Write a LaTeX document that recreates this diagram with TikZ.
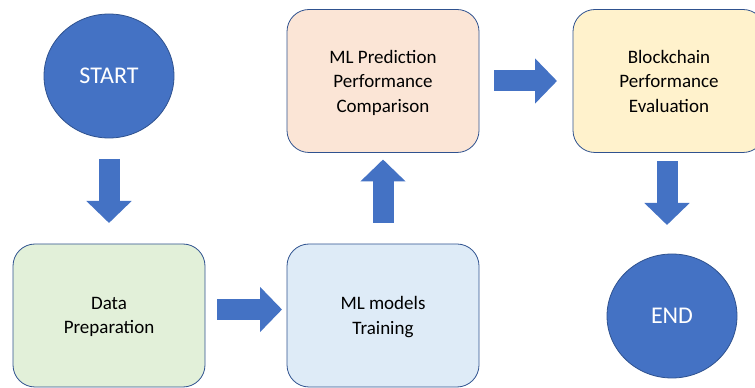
\documentclass[tikz,border=0pt]{standalone}
\usepackage{fontspec}
\setmainfont{Carlito}
\usetikzlibrary{shapes.geometric,arrows.meta}
\definecolor{offblue}{HTML}{4472C4}
\definecolor{edgeblue}{HTML}{2F528F}
\definecolor{prepgreen}{HTML}{E2F0D9}
\definecolor{trainblue}{HTML}{DEEBF7}
\definecolor{predpeach}{HTML}{FBE5D6}
\definecolor{chainyellow}{HTML}{FFF2CC}
\begin{document}
\begin{tikzpicture}[x=1pt,y=1pt,
  term/.style={ellipse,draw=edgeblue,line width=.8pt,fill=offblue,text=white,minimum width=130pt,minimum height=124pt,inner sep=0pt,outer sep=0pt,font=\fontsize{24}{28}\selectfont},
  stage/.style={rectangle,rounded corners=22pt,draw=edgeblue,line width=.8pt,minimum width=192pt,minimum height=143pt,align=center,text depth=0pt,outer sep=0pt,font=\fontsize{19}{24.5}\selectfont},
  flow/.style={line width=21pt,draw=offblue,-{Triangle[length=22pt,width=44pt]}}]
\useasboundingbox (0,0) rectangle (755,388);
\node[term] (start) at (109,312) {START};
\node[stage,fill=prepgreen] (prep) at (109,72.5) {Data\\Preparation};
\node[stage,fill=trainblue] (train) at (383,72.5) {ML models\\Training};
\node[stage,fill=predpeach] (pred) at (383,307) {ML Prediction\\Performance\\Comparison};
\node[stage,fill=chainyellow] (chain) at (669,307) {Blockchain\\Performance\\Evaluation};
\node[term] (end) at (672,72) {END};
\draw[flow] ([yshift=-21pt]start.south) -- ([yshift=21pt]prep.north);
\draw[flow] ([xshift=12pt,yshift=6pt]prep.east) -- ([xshift=-5pt,yshift=6pt]train.west);
\draw[flow] ([yshift=21pt]train.north) -- ([yshift=-7pt]pred.south);
\draw[flow] ([xshift=15pt]pred.east) -- ([xshift=-16pt]chain.west);
\draw[flow] ([xshift=-2pt,yshift=-9pt]chain.south) -- ([xshift=-5pt,yshift=29pt]end.north);
\end{tikzpicture}
\end{document}
